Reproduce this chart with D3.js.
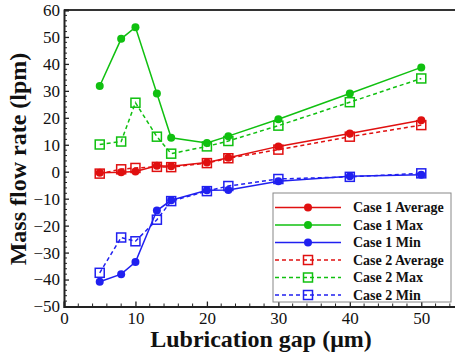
<!DOCTYPE html>
<html>
<head>
<meta charset="utf-8">
<script src="https://cdn.jsdelivr.net/npm/d3@7"></script>
<style>
body { margin: 0; background: #fff; }
svg text { font-family: "Liberation Serif", "Times New Roman", serif; }
</style>
</head>
<body>
<div id="chart"></div>
<script>
var gap = [5, 8, 10, 13, 15, 20, 23, 30, 40, 50];
var case1Avg = [-0.4, -0.2, 0.1, 2.2, 2.0, 3.4, 5.2, 9.4, 14.2, 19.1];
var case1Max = [31.8, 49.3, 53.6, 29.0, 12.6, 10.7, 13.2, 19.5, 29.0, 38.7];
var case1Min = [-40.8, -38.0, -33.5, -14.4, -10.6, -6.9, -6.8, -3.5, -1.7, -1.1];
var case2Avg = [-0.7, 0.9, 1.4, 1.8, 1.7, 3.2, 5.0, 8.2, 13.0, 17.3];
var case2Max = [10.1, 11.2, 25.6, 13.0, 6.7, 9.4, 11.4, 17.1, 25.8, 34.6];
var case2Min = [-37.5, -24.4, -25.8, -17.8, -10.9, -7.2, -5.3, -2.7, -1.9, -0.6];
var xTicks = [0, 10, 20, 30, 40, 50];
var yTicks = [-50, -40, -30, -20, -10, 0, 10, 20, 30, 40, 50, 60];

var series = [
  { name: "Case 1 Average", values: case1Avg, color: "#e01010", dashed: false },
  { name: "Case 1 Max", values: case1Max, color: "#10c010", dashed: false },
  { name: "Case 1 Min", values: case1Min, color: "#2020f0", dashed: false },
  { name: "Case 2 Average", values: case2Avg, color: "#e01010", dashed: true },
  { name: "Case 2 Max", values: case2Max, color: "#10c010", dashed: true },
  { name: "Case 2 Min", values: case2Min, color: "#2020f0", dashed: true }
];

var W = 455, H = 356;
var margin = { top: 10, right: 0, bottom: 49.5, left: 64 };
var width = 393, height = H - margin.top - margin.bottom;
var serif = "'Liberation Serif', 'Times New Roman', serif";

var svg = d3.select("#chart").append("svg")
  .attr("width", W)
  .attr("height", H);

var g = svg.append("g")
  .attr("transform", "translate(" + margin.left + "," + margin.top + ")");

var x = d3.scaleLinear().domain([0, 55]).range([0, width]);
var y = d3.scaleLinear().domain([-50, 60]).range([height, 0]);

// frame (top / right)
g.append("path")
  .attr("d", "M0,0H" + width + "V" + height)
  .attr("fill", "none")
  .attr("stroke", "#333")
  .attr("stroke-width", 2);

// minor ticks
var xMinor = d3.range(0, 55, 2).filter(function (v) { return v % 10 !== 0; });
var yMinor = d3.range(-50, 61, 2).filter(function (v) { return v % 10 !== 0; });

function customXAxis(sel) {
  sel.call(d3.axisBottom(x).tickValues(xTicks).tickSize(-5).tickPadding(5));
  sel.select(".domain").attr("stroke", "#222").attr("stroke-width", 2);
  sel.selectAll(".tick line").attr("stroke", "#222").attr("stroke-width", 1.3);
  sel.selectAll(".tick text").style("font-size", "17px").style("font-family", serif)
    .attr("fill", "#111");
  sel.selectAll(".minor").data(xMinor).enter().append("line")
    .attr("class", "minor")
    .attr("x1", function (d) { return x(d); })
    .attr("x2", function (d) { return x(d); })
    .attr("y1", 0).attr("y2", -3)
    .attr("stroke", "#222").attr("stroke-width", 1);
}

function customYAxis(sel) {
  sel.call(d3.axisLeft(y).tickValues(yTicks).tickSize(-5).tickPadding(4));
  sel.select(".domain").attr("stroke", "#222").attr("stroke-width", 2);
  sel.selectAll(".tick line").attr("stroke", "#222").attr("stroke-width", 1.3);
  sel.selectAll(".tick text").style("font-size", "17px").style("font-family", serif)
    .attr("fill", "#111");
  sel.selectAll(".minor").data(yMinor).enter().append("line")
    .attr("class", "minor")
    .attr("y1", function (d) { return y(d); })
    .attr("y2", function (d) { return y(d); })
    .attr("x1", 0).attr("x2", 3)
    .attr("stroke", "#222").attr("stroke-width", 1);
}

g.append("g")
  .attr("transform", "translate(0," + height + ")")
  .call(customXAxis);

g.append("g")
  .call(customYAxis);

// lines
var line = d3.line()
  .x(function (d, i) { return x(gap[i]); })
  .y(function (d) { return y(d); });

var lines = g.append("g").attr("class", "lines");

series.forEach(function (s) {
  lines.append("path")
    .datum(s.values)
    .attr("d", line)
    .attr("fill", "none")
    .attr("stroke", s.color)
    .attr("stroke-width", 1.5)
    .attr("stroke-dasharray", s.dashed ? "4,3" : null);
});

// markers
series.forEach(function (s) {
  var mg = g.append("g");
  if (s.dashed) {
    mg.selectAll("rect").data(s.values).enter().append("rect")
      .attr("x", function (d, i) { return x(gap[i]) - 4.5; })
      .attr("y", function (d) { return y(d) - 4.5; })
      .attr("width", 9).attr("height", 9)
      .attr("fill", "none")
      .attr("stroke", s.color)
      .attr("stroke-width", 1.5);
  } else {
    mg.selectAll("circle").data(s.values).enter().append("circle")
      .attr("cx", function (d, i) { return x(gap[i]); })
      .attr("cy", function (d) { return y(d); })
      .attr("r", 4)
      .attr("fill", s.color);
  }
});

// legend
var lx = 209, ly = 183;
var legend = g.append("g").attr("transform", "translate(" + lx + "," + ly + ")");
legend.append("rect")
  .attr("width", 178).attr("height", 109)
  .attr("fill", "#fff")
  .attr("stroke", "#888")
  .attr("stroke-width", 1);

series.forEach(function (s, i) {
  var ry = 14.5 + i * 17.5;
  var row = legend.append("g").attr("transform", "translate(0," + ry + ")");
  row.append("line")
    .attr("x1", 2).attr("x2", 68)
    .attr("stroke", s.color)
    .attr("stroke-width", 1.5)
    .attr("stroke-dasharray", s.dashed ? "4,3" : null);
  if (s.dashed) {
    row.append("rect")
      .attr("x", 35 - 4.5).attr("y", -4.5)
      .attr("width", 9).attr("height", 9)
      .attr("fill", "none")
      .attr("stroke", s.color)
      .attr("stroke-width", 1.5);
  } else {
    row.append("circle").attr("cx", 35).attr("r", 4).attr("fill", s.color);
  }
  row.append("text")
    .attr("x", 80).attr("dy", "0.35em")
    .attr("font-size", 14)
    .attr("font-weight", "bold")
    .attr("fill", "#111")
    .text(s.name);
});

// axis titles
svg.append("text")
  .attr("x", 261).attr("y", 347)
  .attr("text-anchor", "middle")
  .attr("font-size", 24)
  .attr("font-weight", "bold")
  .attr("fill", "#111")
  .text("Lubrication gap (\u03bcm)");

svg.append("text")
  .attr("transform", "translate(26,159) rotate(-90)")
  .attr("text-anchor", "middle")
  .attr("font-size", 24)
  .attr("font-weight", "bold")
  .attr("fill", "#111")
  .text("Mass flow rate (lpm)");
</script>
</body>
</html>
